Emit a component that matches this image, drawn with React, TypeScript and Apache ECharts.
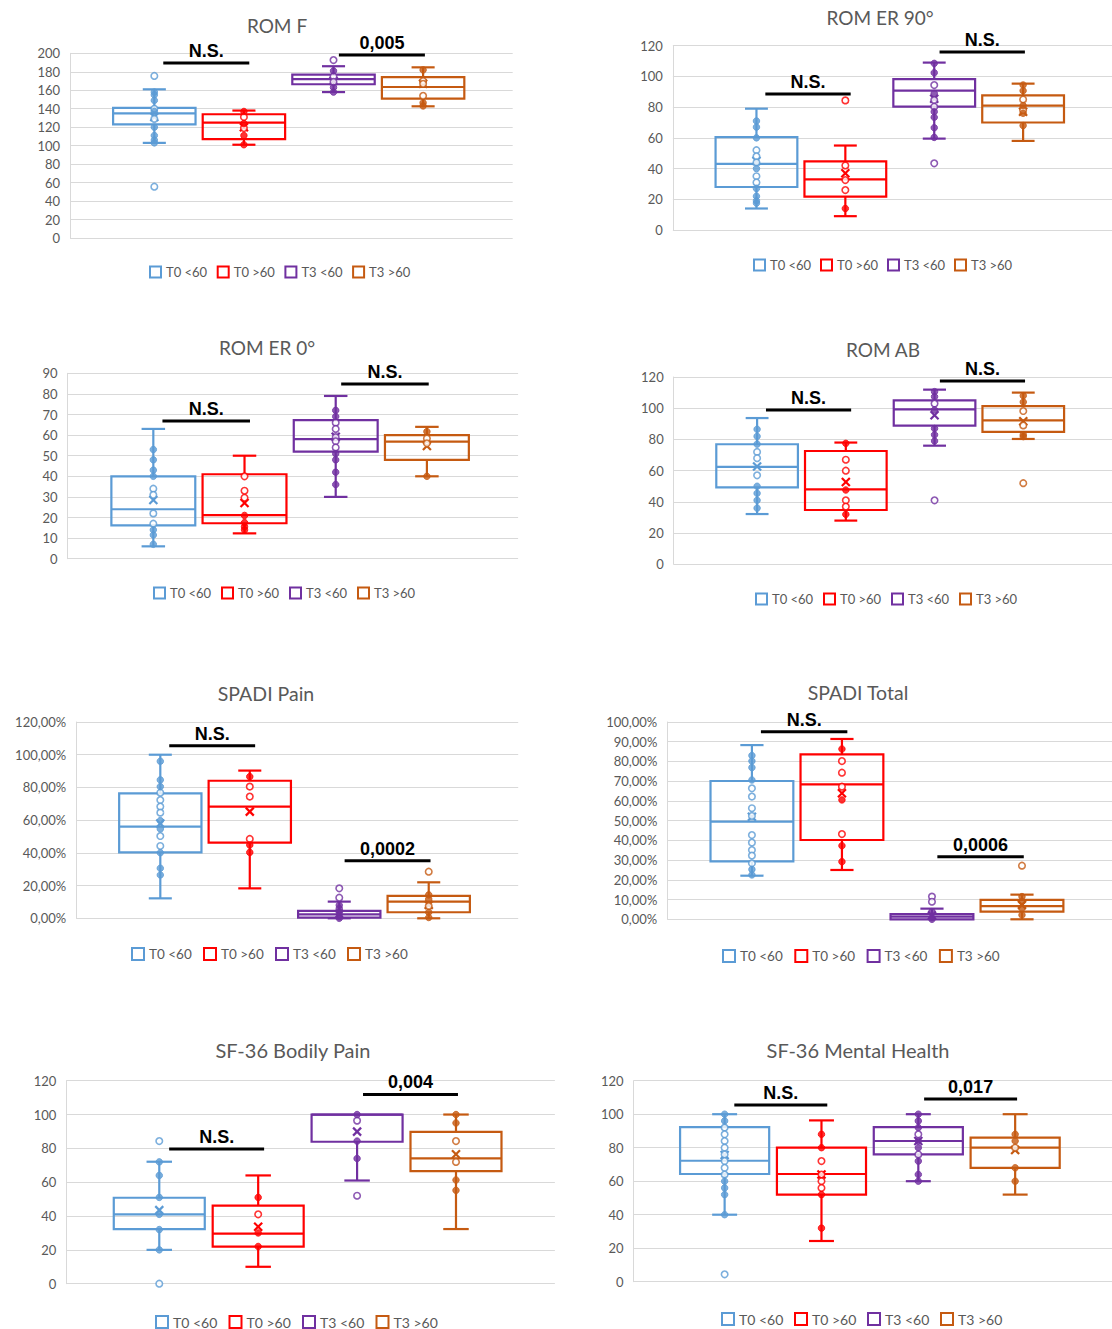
import React, { useEffect, useRef } from 'react';
import * as echarts from 'echarts';

const GROUPS = ['T0 <60', 'T0 >60', 'T3 <60', 'T3 >60'];
const COLORS = ['#5B9BD5', '#FF0000', '#7030A0', '#C55A11'];

// stats per group: [min, q1, median, q3, max, mean]
const romFStats = [[103, 123, 135, 141, 161, 131], [101, 107, 125, 134, 138, 120], [158, 166.5, 172, 177, 186, 170], [142.6, 151, 163.5, 174.3, 184.8, 167]];
const romFOpen = [[175.5, 55.6, 140, 129], [131, 119], [192.7, 175, 169], [170, 167, 154]];
const romFSolid = [[158, 155, 149, 137, 120, 111, 106, 103], [137, 124, 111, 101], [181, 163, 158], [182, 146.5, 143]];
const romFSig = [['N.S.', 189.5], ['0,005', 198.2]];

const er90Stats = [[14, 28, 43, 60.5, 79, 45], [9, 21.7, 33, 44.7, 55, 37], [59.5, 80.3, 90.7, 98.3, 109, 85.5], [58, 70, 81, 87.7, 95.3, 77]];
const er90Open = [[52, 48, 44, 35, 31], [84.4, 42, 32.5, 26], [43.4, 94.4, 84.6, 80.3], [85, 78]];
const er90Solid = [[71, 67, 60, 40, 27, 22, 19, 17.5], [14], [108.5, 102.4, 89, 77, 73.4, 66.6, 60.3], [94.4, 90.7, 81, 76, 68]];
const er90Sig = [['N.S.', 88.5], ['N.S.', 115.9]];

const er0Stats = [[6, 16.2, 24, 40, 63, 28.5], [12.3, 17.2, 21.2, 41, 50, 27], [30, 52, 58, 67.3, 79, 59.2], [40, 48, 56.8, 60, 64, 54.7]];
const er0Open = [[34, 31, 22, 17], [40, 33, 29.6], [66, 63, 59, 57, 54], [58.4, 56]];
const er0Solid = [[53, 48, 43, 40, 14, 11.5, 7], [21, 17.5, 15.5, 14], [72, 69, 51, 48, 42, 36], [61.7, 40]];
const er0Sig = [['N.S.', 66.9], ['N.S.', 84.8]];

const abStats = [[32.2, 49.3, 62.4, 76.9, 93.7, 62.6], [28, 34.8, 48, 72.6, 78, 52.7], [76, 88.8, 99.3, 105, 111.9, 95.5], [80.3, 84.8, 92.2, 101.4, 110, 91.6]];
const abOpen = [[72, 68, 57], [67, 60, 41, 37], [41, 103], [52, 98.2, 89]];
const abSolid = [[86.5, 82, 77, 50, 45.5, 41, 36], [77.5, 47.6, 32], [110.6, 107.4, 99, 87, 83, 79], [108, 104, 83, 81.8]];
const abSig = [['N.S.', 98.9], ['N.S.', 117.4]];

const painStats = [[12.2, 40.3, 56, 76.4, 100, 58], [18.3, 46.3, 68.3, 84.1, 90.3, 65.2], [0, 0.4, 2.4, 4.5, 10.2, 2.6], [0, 3.7, 10.2, 13.7, 22, 8.2]];
const painOpen = [[76.8, 72.3, 68.3, 64.6, 50.3, 44.2], [80.5, 74.4, 48.5], [18.3, 12.6], [28.5, 7.5]];
const painSolid = [[96, 84.6, 80.5, 59.7, 54.6, 40.1, 30.6, 26.5], [86.6, 44.8, 40.3], [8, 6, 3.7, 1, 0], [14.3, 11.8, 3.7, 0.5]];
const painSig = [['N.S.', 105.5], ['0,0002', 35.2]];

const totStats = [[22.1, 29.4, 49.5, 70.1, 88.3, 52], [25, 40.2, 68.4, 83.6, 91.4, 63.9], [0, 0, 1.35, 2.6, 5.4, 1.9], [0, 3.9, 6.7, 9.8, 12.5, 7.3]];
const totOpen = [[66.4, 62.2, 56.3, 52.4, 42.7, 38.9, 35.1, 32.3, 28.4], [80.2, 74.3, 67.2, 43.2], [11.5, 8.9], [27.2]];
const totSolid = [[83, 80.2, 76.9, 70.6, 25.3, 22.5], [86.3, 60.5, 37.3, 29.2], [3.9, 0.8, 0], [11.5, 9, 5.6, 2.2]];
const totSig = [['N.S.', 95.1], ['0,0006', 31.7]];

const bpStats = [[20, 32.3, 41, 50.8, 72.1, 43.5], [10, 21.9, 29.6, 46.1, 64, 33.7], [61, 83.9, 100, 100, 100, 89.9], [32.3, 66.6, 74.1, 89.7, 100, 76.5]];
const bpOpen = [[84.3, 0], [41], [52, 96.4], [84.3, 72]];
const bpSolid = [[72, 64, 51, 41, 32, 20], [51, 30, 22], [100, 84.3, 74], [100, 95, 61.3, 55.2]];
const bpSig = [['N.S.', 79.6], ['0,004', 111.9]];

const mhStats = [[40, 64.3, 72.2, 92.3, 100, 75.6], [24.3, 52, 64.3, 80, 96.3, 64], [60, 76, 84, 92.3, 100, 84], [52, 68, 80, 86, 100, 78.6]];
const mhOpen = [[4.4, 92, 88, 84, 80, 76, 72, 68, 64], [72, 64, 60, 56], [88, 76], [80]];
const mhSolid = [[100, 96, 60, 56, 52, 40], [88, 80, 52, 32], [100, 96, 92, 84, 80, 72, 64, 60], [88, 84, 68, 60]];
const mhSig = [['N.S.', 105.5], ['0,017', 109.1]];

const TITLES = ['ROM F', 'ROM ER 90°', 'ROM ER 0°', 'ROM AB', 'SPADI Pain', 'SPADI Total', 'SF-36 Bodily Pain', 'SF-36 Mental Health'];
const Y_MAX = [200, 120, 90, 120, 120, 100, 120, 120];
const Y_STEP = [20, 20, 10, 20, 20, 10, 20, 20];
const PERCENT = [false, false, false, false, true, true, false, false];

const STATS = [romFStats, er90Stats, er0Stats, abStats, painStats, totStats, bpStats, mhStats];
const OPEN = [romFOpen, er90Open, er0Open, abOpen, painOpen, totOpen, bpOpen, mhOpen];
const SOLID = [romFSolid, er90Solid, er0Solid, abSolid, painSolid, totSolid, bpSolid, mhSolid];
const SIG = [romFSig, er90Sig, er0Sig, abSig, painSig, totSig, bpSig, mhSig];

// layout (pixels)
const LAYOUT = [
  { left: 70.1, top: 53.3, width: 442.6, height: 184.7, tx: 277, ty: 25, ts: 19, lx: 150, ly: 272, lg: 67.7, ls: 13 },
  { left: 672.9, top: 45.7, width: 443.6, height: 184.3, tx: 880, ty: 17, ts: 19, lx: 754, ly: 265, lg: 67, ls: 13 },
  { left: 67.6, top: 373.3, width: 450.5, height: 185.4, tx: 267, ty: 347, ts: 19, lx: 154, ly: 593, lg: 68, ls: 13 },
  { left: 673.7, top: 377, width: 450, height: 187.3, tx: 883, ty: 349, ts: 19, lx: 756, ly: 599, lg: 68, ls: 13 },
  { left: 76.2, top: 722, width: 442, height: 196.3, tx: 266, ty: 693, ts: 19.5, lx: 132, ly: 954, lg: 72, ls: 13.5 },
  { left: 667.3, top: 722, width: 445, height: 197.3, tx: 858, ty: 692, ts: 19.5, lx: 723, ly: 956, lg: 72.3, ls: 13.5 },
  { left: 66.3, top: 1080.7, width: 488.6, height: 203, tx: 293, ty: 1050, ts: 20, lx: 156, ly: 1322, lg: 73.5, ls: 14 },
  { left: 633.6, top: 1080.7, width: 484, height: 201, tx: 858, ty: 1050, ts: 20, lx: 722, ly: 1319, lg: 73, ls: 14 },
];

const X_MIN = 0.06;
const X_MAX = 5;
const BOX_W = 0.92;
const CAP = 0.28;
const SIG_X = [[1.1, 2.06], [3.06, 4.02]];
const GREY = '#595959';
const FONT = 'Lato, "Open Sans", sans-serif';

function renderBox(params: any, api: any) {
  const c = COLORS[params.dataIndex];
  const x = api.value(0);
  const mn = api.value(1), q1 = api.value(2), md = api.value(3), q3 = api.value(4), mx = api.value(5), mean = api.value(6);
  const w = api.size([BOX_W, 0])[0];
  const cx = api.coord([x, 0])[0];
  const Y = (v: number) => api.coord([x, v])[1];
  const hw = w / 2;
  const cw = (w * CAP) / 2;
  const ls = { stroke: c, lineWidth: 2.2 };
  const ch: any[] = [];
  ch.push({ type: 'rect', shape: { x: cx - hw, y: Y(q3), width: w, height: Y(q1) - Y(q3) }, style: { stroke: c, lineWidth: 2.2, fill: 'none' } });
  ch.push({ type: 'line', shape: { x1: cx - hw, y1: Y(md), x2: cx + hw, y2: Y(md) }, style: ls });
  if (mx > q3) {
    ch.push({ type: 'line', shape: { x1: cx, y1: Y(q3), x2: cx, y2: Y(mx) }, style: ls });
    ch.push({ type: 'line', shape: { x1: cx - cw, y1: Y(mx), x2: cx + cw, y2: Y(mx) }, style: ls });
  }
  if (mn < q1) {
    ch.push({ type: 'line', shape: { x1: cx, y1: Y(q1), x2: cx, y2: Y(mn) }, style: ls });
    ch.push({ type: 'line', shape: { x1: cx - cw, y1: Y(mn), x2: cx + cw, y2: Y(mn) }, style: ls });
  }
  const my = Y(mean);
  const s = 4;
  ch.push({ type: 'line', shape: { x1: cx - s, y1: my - s, x2: cx + s, y2: my + s }, style: { stroke: c, lineWidth: 2.2 } });
  ch.push({ type: 'line', shape: { x1: cx - s, y1: my + s, x2: cx + s, y2: my - s }, style: { stroke: c, lineWidth: 2.2 } });
  return { type: 'group', children: ch };
}

function makeSigRender(sig: any[]) {
  return (params: any, api: any) => {
    const p1 = api.coord([api.value(0), api.value(2)]);
    const p2 = api.coord([api.value(1), api.value(2)]);
    const label = sig[params.dataIndex][0];
    return {
      type: 'group',
      children: [
        { type: 'line', shape: { x1: p1[0], y1: p1[1], x2: p2[0], y2: p2[1] }, style: { stroke: '#000', lineWidth: 3 } },
        {
          type: 'text',
          x: (p1[0] + p2[0]) / 2,
          y: p1[1] - 12,
          style: {
            text: label, fill: '#000', font: 'bold 18px "Liberation Sans", Arial, sans-serif',
            align: 'center', verticalAlign: 'middle', textAlign: 'center', textVerticalAlign: 'middle',
          },
        },
      ],
    };
  };
}

function buildOption() {
  const grid: any[] = [];
  const xAxis: any[] = [];
  const yAxis: any[] = [];
  const series: any[] = [];
  const graphic: any[] = [];

  LAYOUT.forEach((L, p) => {
    grid.push({ left: L.left, top: L.top, width: L.width, height: L.height, containLabel: false });
    xAxis.push({ gridIndex: p, type: 'value', min: X_MIN, max: X_MAX, show: false });
    const pct = PERCENT[p];
    yAxis.push({
      gridIndex: p, type: 'value', min: 0, max: Y_MAX[p], interval: Y_STEP[p],
      axisLine: { show: true, lineStyle: { color: '#d9d9d9', width: 1 } },
      axisTick: { show: false },
      splitLine: { show: true, lineStyle: { color: '#d9d9d9', width: 1 } },
      axisLabel: {
        color: GREY, fontSize: 13, fontFamily: FONT, margin: 10,
        formatter: (v: number) => (pct ? v.toFixed(2).replace('.', ',') + '%' : String(v)),
      },
    });

    const stats = STATS[p];
    series.push({
      type: 'custom', name: TITLES[p] + ' box', xAxisIndex: p, yAxisIndex: p, z: 2,
      renderItem: renderBox,
      encode: { x: 0, y: [1, 2, 3, 4, 5] },
      data: stats.map((s, i) => [i + 1, ...s]),
    });
    const openData: any[] = [];
    const solidData: any[] = [];
    OPEN[p].forEach((arr, i) => arr.forEach((v) => openData.push({ value: [i + 1, v], itemStyle: { color: '#fff', borderColor: COLORS[i], borderWidth: 1.6 } })));
    SOLID[p].forEach((arr, i) => arr.forEach((v) => solidData.push({ value: [i + 1, v], itemStyle: { color: COLORS[i], borderColor: COLORS[i], borderWidth: 1 } })));
    series.push({ type: 'scatter', name: TITLES[p] + ' points', xAxisIndex: p, yAxisIndex: p, z: 3, symbol: 'circle', symbolSize: 6.5, data: openData });
    series.push({ type: 'scatter', name: TITLES[p] + ' points2', xAxisIndex: p, yAxisIndex: p, z: 3, symbol: 'circle', symbolSize: 6.5, data: solidData });
    const sig = SIG[p];
    series.push({
      type: 'custom', name: TITLES[p] + ' sig', xAxisIndex: p, yAxisIndex: p, z: 4,
      renderItem: makeSigRender(sig),
      encode: { x: [0, 1], y: 2 },
      data: sig.map((s, k) => [SIG_X[k][0], SIG_X[k][1], s[1]]),
    });

    graphic.push({
      type: 'text', x: L.tx, y: L.ty,
      style: { text: TITLES[p], fill: GREY, font: `${L.ts}px ${FONT}`, align: 'center', verticalAlign: 'middle', textAlign: 'center', textVerticalAlign: 'middle' },
    });
    GROUPS.forEach((g, i) => {
      const x0 = L.lx + i * L.lg;
      const sz = L.ls < 13.5 ? 11 : 12;
      graphic.push({ type: 'rect', shape: { x: x0, y: L.ly - sz / 2, width: sz, height: sz }, style: { fill: 'none', stroke: COLORS[i], lineWidth: 2 } });
      graphic.push({
        type: 'text', x: x0 + sz + 5, y: L.ly,
        style: { text: g, fill: GREY, font: `${L.ls}px ${FONT}`, align: 'left', verticalAlign: 'middle', textAlign: 'left', textVerticalAlign: 'middle' },
      });
    });
  });

  return { animation: false, backgroundColor: '#fff', grid, xAxis, yAxis, series, graphic };
}

export default function App() {
  const ref = useRef<HTMLDivElement>(null);
  useEffect(() => {
    if (!ref.current) return;
    const chart = echarts.init(ref.current, null, { renderer: 'svg', width: 1112, height: 1329 });
    chart.setOption(buildOption() as any);
    return () => chart.dispose();
  }, []);
  return <div ref={ref} style={{ position: 'absolute', left: 0, top: 0, width: 1112, height: 1329, overflow: 'hidden' }} />;
}
